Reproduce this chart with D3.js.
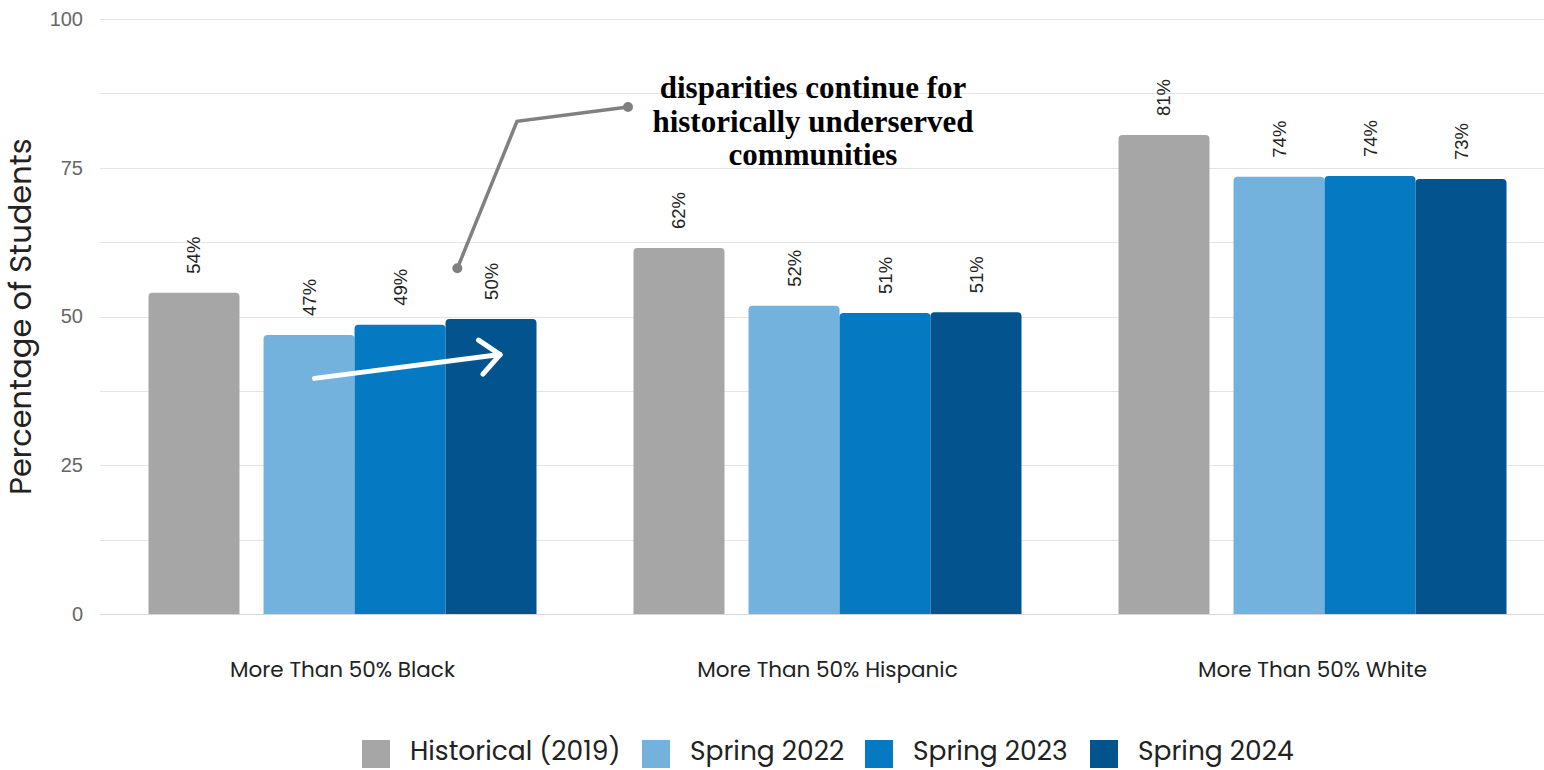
<!DOCTYPE html>
<html>
<head>
<meta charset="utf-8">
<script src="https://cdn.jsdelivr.net/npm/d3@7"></script>
<style>
  html, body { margin: 0; padding: 0; background: #fff; }
  svg { display: block; }
</style>
</head>
<body>
<svg id="chart" width="1544" height="770"></svg>
<script>
// School groups by majority demographic
const categories = ["More Than 50% Black", "More Than 50% Hispanic", "More Than 50% White"];
const seriesNames = ["Historical (2019)", "Spring 2022", "Spring 2023", "Spring 2024"];
const seriesColors = ["#a6a6a6", "#73b2dd", "#0579c1", "#03548e"];

// Percentage of students, one array per series
const historical2019 = [54.0, 61.5, 80.5];
const spring2022 = [46.9, 51.8, 73.5];
const spring2023 = [48.6, 50.6, 73.6];
const spring2024 = [49.6, 50.7, 73.1];

const yTicks = [0, 25, 50, 75, 100];
const yGrid = [0, 12.5, 25, 37.5, 50, 62.5, 75, 87.5, 100];
const yTitle = "Percentage of Students";
const calloutLines = ["disparities continue for", "historically underserved", "communities"];

const seriesValues = [historical2019, spring2022, spring2023, spring2024];
const rows = categories.map((c, i) => ({
  category: c,
  values: seriesNames.map((s, j) => ({ series: s, idx: j, value: seriesValues[j][i] }))
}));

const font = "Poppins, 'Open Sans', sans-serif";
const numFont = "'Liberation Sans', Arial, sans-serif";
const svg = d3.select("#chart");

const plotLeft = 100, plotRight = 1555, plotTop = 19, plotBottom = 614;

const x0 = d3.scaleBand().domain(categories).range([plotLeft, plotRight])
  .paddingInner(0.2).paddingOuter(0.1);
const y = d3.scaleLinear().domain([0, 100]).range([plotBottom, plotTop]);

const bw = x0.bandwidth();
const barW = bw * 0.2345;
const gapAfterFirst = bw - 4 * barW;
const barOffset = i => i * barW + (i > 0 ? gapAfterFirst : 0);

// Gridlines
svg.append("g")
  .selectAll("line")
  .data(yGrid)
  .join("line")
  .attr("x1", plotLeft).attr("x2", 1544)
  .attr("y1", d => Math.round(y(d)) + 0.5).attr("y2", d => Math.round(y(d)) + 0.5)
  .attr("stroke", d => d === 0 ? "#d6d6d6" : "#e4e4e4")
  .attr("stroke-width", 1.2);

// Y axis labels
const yAxis = d3.axisLeft(y).tickValues(yTicks).tickSize(0).tickPadding(0);
const yG = svg.append("g").attr("transform", `translate(${plotLeft - 17},0)`).call(yAxis);
yG.select(".domain").remove();
yG.attr("font-family", null).attr("font-size", null);
yG.selectAll("text")
  .style("font-family", numFont).style("font-size", "20px").attr("fill", "#666");

// Y axis title
svg.append("text")
  .attr("transform", `translate(31,${(plotTop + plotBottom) / 2}) rotate(-90)`)
  .attr("text-anchor", "middle")
  .style("font-family", font).style("font-size", "30.5px").attr("fill", "#222")
  .text(yTitle);

// Bars with rounded top corners
function topRoundedRect(x, yTop, w, h, r) {
  r = Math.min(r, h / 2, w / 2);
  return `M${x},${yTop + h}V${yTop + r}Q${x},${yTop} ${x + r},${yTop}` +
    `H${x + w - r}Q${x + w},${yTop} ${x + w},${yTop + r}V${yTop + h}Z`;
}

const groups = svg.append("g").selectAll("g")
  .data(rows)
  .join("g")
  .attr("transform", d => `translate(${x0(d.category)},0)`);

groups.selectAll("path")
  .data(d => d.values)
  .join("path")
  .attr("d", d => topRoundedRect(barOffset(d.idx), y(d.value), barW, y(0) - y(d.value), 4))
  .attr("fill", d => seriesColors[d.idx]);

// Value labels, rotated
groups.selectAll("text.val")
  .data(d => d.values)
  .join("text")
  .attr("class", "val")
  .attr("transform", d => `translate(${barOffset(d.idx) + barW / 2 + 6.5},${y(d.value) - 19}) rotate(-90)`)
  .attr("text-anchor", "start")
  .style("font-family", numFont).style("font-size", "18.5px").attr("fill", "#222")
  .text(d => Math.round(d.value) + "%");

// Category labels
const xAxis = d3.axisBottom(x0).tickSize(0).tickPadding(0);
const xG = svg.append("g").attr("transform", `translate(0,${plotBottom + 63})`).call(xAxis);
xG.select(".domain").remove();
xG.attr("font-family", null).attr("font-size", null);
xG.selectAll("text")
  .style("font-family", font).style("font-size", "21.5px").attr("fill", "#222").attr("dy", 0);

// Legend
const legend = svg.append("g").attr("transform", "translate(0,754)");
const legendX = [362, 642, 865, 1090];
const lItems = legend.selectAll("g").data(seriesNames).join("g")
  .attr("transform", (d, i) => `translate(${legendX[i]},0)`);
lItems.append("rect").attr("x", 0).attr("y", -14).attr("width", 28).attr("height", 28)
  .attr("fill", (d, i) => seriesColors[i]);
lItems.append("text")
  .attr("transform", "translate(48,6) scale(1.02,1)")
  .style("font-family", font).style("font-size", "26px").attr("fill", "#222")
  .text(d => d);

// White trend arrow across the recent bars of the first group
const g0 = x0(categories[0]);
const arrowStart = [g0 + barOffset(1) + barW * 0.56, y(39.6)];
const arrowEnd = [g0 + barOffset(3) + barW * 0.6, y(43.6)];
const ang = Math.atan2(arrowEnd[1] - arrowStart[1], arrowEnd[0] - arrowStart[0]);
const headLen = 26, headAng = 0.72;
const arrow = svg.append("g").attr("stroke", "#fff").attr("stroke-width", 5)
  .attr("stroke-linecap", "round").attr("stroke-linejoin", "round").attr("fill", "none");
arrow.append("line")
  .attr("x1", arrowStart[0]).attr("y1", arrowStart[1])
  .attr("x2", arrowEnd[0]).attr("y2", arrowEnd[1]);
arrow.append("path").attr("d",
  `M${arrowEnd[0] - headLen * Math.cos(ang - headAng)},${arrowEnd[1] - headLen * Math.sin(ang - headAng)}` +
  `L${arrowEnd[0]},${arrowEnd[1]}` +
  `L${arrowEnd[0] - headLen * Math.cos(ang + headAng)},${arrowEnd[1] - headLen * Math.sin(ang + headAng)}`);

// Callout leader and text
const leader = [
  [g0 + barOffset(3) + barW * 0.13, y(58.1)],
  [517, y(82.8)],
  [628, y(85.2)]
];
svg.append("path")
  .attr("d", d3.line()(leader))
  .attr("fill", "none").attr("stroke", "#808080").attr("stroke-width", 3.5);
svg.selectAll("circle.dot").data([leader[0], leader[2]]).join("circle")
  .attr("class", "dot")
  .attr("cx", d => d[0]).attr("cy", d => d[1]).attr("r", 5).attr("fill", "#808080");

const callout = svg.append("text")
  .style("font-family", "'Liberation Serif', 'Times New Roman', serif")
  .attr("font-weight", "bold").style("font-size", "31px").attr("fill", "#000")
  .attr("text-anchor", "middle");
calloutLines.forEach((t, i) => {
  callout.append("tspan").attr("x", 813).attr("y", 98 + i * 33.5).text(t);
});
</script>
</body>
</html>
